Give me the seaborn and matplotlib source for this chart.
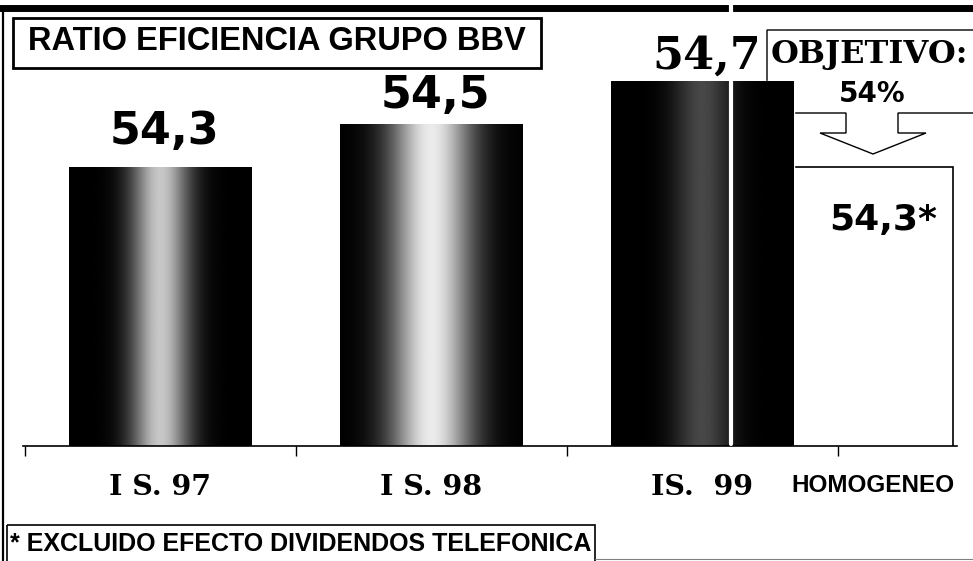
import numpy as np
import matplotlib
matplotlib.use("Agg")
import matplotlib.pyplot as plt
import seaborn as sns
from matplotlib.patches import Polygon, Rectangle
from matplotlib.lines import Line2D
from matplotlib.transforms import Affine2D
from matplotlib.ticker import FixedLocator

# data
periods = ["I S. 97", "I S. 98", "IS.  99"]
ratios = [54.3, 54.5, 54.7]
ratio_labels = ["54,3", "54,5", "54,7"]
homog_label = "HOMOGENEO"
homog_ratio = 54.3
homog_text = "54,3*"
target_text = "OBJETIVO:"
target_value = "54%"
title = "RATIO EFICIENCIA GRUPO BBV"
footnote = "* EXCLUIDO EFECTO DIVIDENDOS TELEFONICA"

# style bits
shine = [0.78, 0.92, 0.28]      # brightness in the middle of each bar
spread = [0.32, 0.45, 0.32]
label_gap = [10, 5, 2]          # points above the bar top
homog_pos = 2.629
homog_width = 0.594

sns.set_style("white")
plt.rcParams["font.family"] = ["DejaVu Sans"]
plt.rcParams["text.color"] = "black"
plt.rcParams["xtick.color"] = "black"
plt.rcParams["xtick.labelcolor"] = "black"

W, H = 973, 561
fig = plt.figure(figsize=(W / 100, H / 100), dpi=100)
# pixel coords, origin top-left
pix = Affine2D().scale(1 / W, -1 / H).translate(0, 1) + fig.transFigure

ax_l, ax_r, ax_t, ax_b = 23, 957, 16, 446
ax = fig.add_axes([ax_l / W, 1 - ax_b / H, (ax_r - ax_l) / W, (ax_b - ax_t) / H])
ax.patch.set_alpha(0)

sns.barplot(x=periods, y=ratios, color="black", saturation=1, width=0.675,
            ax=ax, zorder=2)

# gradient fill of each bar (dark edges, light middle)
u = np.linspace(-1, 1, 300)
for i, bar in enumerate(ax.patches[:3]):
    x0, w = bar.get_x(), bar.get_width()
    prof = shine[i] * np.exp(-(u / spread[i]) ** 2)
    im = ax.imshow(prof[np.newaxis, :], cmap="gray", vmin=0, vmax=1,
                   extent=[x0, x0 + w, 53, bar.get_height()],
                   aspect="auto", zorder=2.1, interpolation="bilinear")
    im.set_clip_path(bar)

# homogeneous ratio as white box
ax.bar(homog_pos, homog_ratio, width=homog_width, color="white",
       edgecolor="black", linewidth=1.2, zorder=1.5)
ax.set_xlim(-0.506, 2.94)
ax.set_ylim(53, 55)

# value labels
for i, (v, txt) in enumerate(zip(ratios, ratio_labels)):
    fam = "DejaVu Serif" if i == 2 else "DejaVu Sans"
    ax.annotate(txt, (i, v), xytext=(3, label_gap[i]), textcoords="offset points",
                ha="center", va="bottom", fontsize=32, fontweight="bold",
                family=fam, color="black", zorder=5)
ax.text(homog_pos + 0.04, 54.05, homog_text, ha="center", va="center",
        fontsize=26, fontweight="bold", color="black", zorder=5)

# axes: only the baseline, ticks at category borders
sns.despine(ax=ax, left=True, top=True, right=True)
ax.spines["bottom"].set_linewidth(1.2)
ax.spines["bottom"].set_color("black")
ax.set_yticks([])
ax.xaxis.set_major_locator(FixedLocator([-0.5, 0.5, 1.5, 2.5]))
ax.xaxis.set_major_formatter(plt.NullFormatter())
ax.tick_params(axis="x", which="major", bottom=True, length=7, width=1,
               direction="out", color="black")
ax.set_xticks([0, 1, 2, homog_pos], minor=True)
ax.set_xticklabels(periods + [homog_label], minor=True)
ax.tick_params(axis="x", which="minor", length=0, pad=20, labelcolor="black")
for lab in ax.get_xticklabels(minor=True):
    if lab.get_text() == homog_label:
        lab.set_family("Liberation Sans")
        lab.set_fontsize(17.5)
        lab.set_fontweight("bold")
        lab.set_va("top")
    else:
        lab.set_family("DejaVu Serif")
        lab.set_fontsize(20.5)
        lab.set_fontweight("bold")

# callout with the target
callout = Polygon([(767, 113), (767, 30), (980, 30), (980, 113), (898, 113),
                   (898, 133), (926, 133), (873, 154), (820, 133), (846, 133),
                   (846, 113)], closed=True, facecolor="white", edgecolor="black",
                  linewidth=1.0, transform=pix, clip_on=False, zorder=1)
ax.add_patch(callout)
fig.text(869, 54, target_text, transform=pix, ha="center", va="center",
         family="DejaVu Serif", fontweight="bold", fontsize=23)
fig.text(872, 94, target_value, transform=pix, ha="center", va="center",
         fontweight="bold", fontsize=20)

# title box
fig.add_artist(Rectangle((13, 18), 528, 50, transform=pix, fill=False,
                         edgecolor="black", linewidth=2))
fig.text(277, 41, title, transform=pix, ha="center", va="center",
         family="Liberation Sans", fontweight="bold", fontsize=23.5)

# footnote box
fig.add_artist(Rectangle((7, 525), 588, 40, transform=pix, fill=False,
                         edgecolor="black", linewidth=1.2))
fig.text(10, 544, footnote, transform=pix, ha="left", va="center",
         family="Liberation Sans", fontweight="bold", fontsize=18)

# frame lines of the scanned slide
fig.add_artist(Line2D([0, W], [8.5, 8.5], transform=pix, color="black", linewidth=5))
fig.add_artist(Line2D([3, 3], [8, H], transform=pix, color="black", linewidth=1.6))
fig.add_artist(Line2D([595, W], [559, 559], transform=pix, color="gray", linewidth=0.8))
fig.add_artist(Line2D([731, 731], [4, 444], transform=pix, color="white", linewidth=3))

fig.savefig("out.png", dpi=100)
